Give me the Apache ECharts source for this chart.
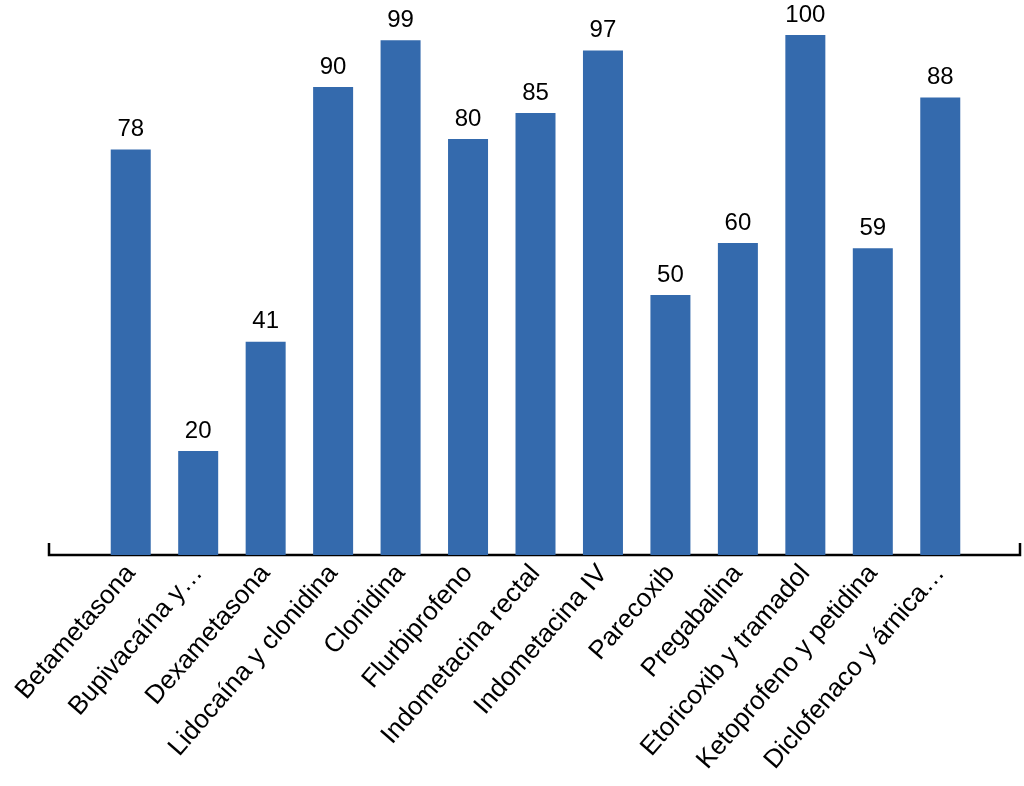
<!DOCTYPE html>
<html>
<head>
<meta charset="utf-8">
<script src="https://cdn.jsdelivr.net/npm/echarts@6/dist/echarts.min.js"></script>
<style>html,body{margin:0;padding:0;background:#fff}#c{width:1024px;height:786px}</style>
</head>
<body>
<div id="c"></div>
<script>
const categories = ["Betametasona","Bupivacaína y…","Dexametasona","Lidocaína y clonidina","Clonidina","Flurbiprofeno","Indometacina rectal","Indometacina IV","Parecoxib","Pregabalina","Etoricoxib y tramadol","Ketoprofeno y petidina","Diclofenaco y árnica…"];
const values = [78,20,41,90,99,80,85,97,50,60,100,59,88];

const chart = echarts.init(document.getElementById('c'));
const FONT = 'Liberation Sans, Arial, sans-serif';
chart.setOption({
  animation: false,
  grid: {left: 97, right: 50, top: 35, bottom: 231},
  xAxis: {
    type: 'category', data: categories,
    axisLine: {show: false}, axisTick: {show: false},
    axisLabel: {rotate: 49, interval: 0, margin: 14, color: '#000', fontSize: 26, fontFamily: FONT}
  },
  yAxis: {type: 'value', min: 0, max: 100, show: false, splitLine: {show: false}},
  series: [{
    type: 'bar', data: values, barWidth: 40,
    itemStyle: {color: '#346aad'},
    label: {show: true, position: 'top', distance: 8, color: '#000', fontSize: 24, fontFamily: FONT}
  }],
  graphic: [{
    type: 'polyline', silent: true,
    shape: {points: [[49,543],[49,555],[1020,555],[1020,543]]},
    style: {stroke: '#000', lineWidth: 2.5, fill: null}
  }]
});
</script>
</body>
</html>
